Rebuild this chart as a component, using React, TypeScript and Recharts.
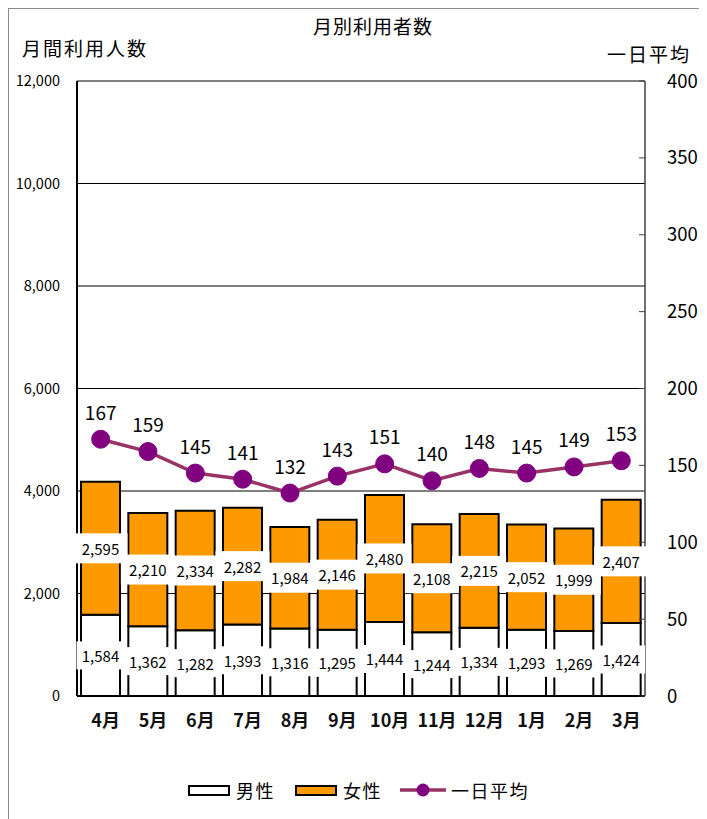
import {
  ComposedChart, Bar, Line, XAxis, YAxis, CartesianGrid, LabelList,
} from 'recharts'

// ─── Data ────────────────────────────────────────────────────────────────────
const MONTHS = ['4月', '5月', '6月', '7月', '8月', '9月', '10月', '11月', '12月', '1月', '2月', '3月']
const MALE = [1584, 1362, 1282, 1393, 1316, 1295, 1444, 1244, 1334, 1293, 1269, 1424]
const FEMALE = [2595, 2210, 2334, 2282, 1984, 2146, 2480, 2108, 2215, 2052, 1999, 2407]
const DAILY_AVG = [167, 159, 145, 141, 132, 143, 151, 140, 148, 145, 149, 153]
const LEFT_TICKS = [0, 2000, 4000, 6000, 8000, 10000, 12000]
const RIGHT_TICKS = [0, 50, 100, 150, 200, 250, 300, 350, 400]
const BOUNDARY_TICKS = [0, 1, 2, 3, 4, 5, 6, 7, 8, 9, 10, 11, 12]

const data = MONTHS.map((m, i) => ({
  month: m,
  male: MALE[i],
  female: FEMALE[i],
  avg: DAILY_AVG[i],
}))

const FONT = '"Noto Sans CJK JP", "Noto Sans", sans-serif'
const ORANGE = '#FF9900'
const LINE_COLOR = '#993366'
const DOT_COLOR = '#800080'

const W = 694
const H = 810

function boxLabel(w: number, h: number) {
  return (props: any) => {
    const { x, y, width, height, value } = props
    const cx = x + width / 2
    const cy = y + height / 2
    return (
      <g>
        <rect x={cx - w / 2} y={cy - h / 2} width={w} height={h} fill="#fff" />
        <text
          x={cx}
          y={cy}
          textAnchor="middle"
          dominantBaseline="central"
          fontSize={15}
          fontFamily={FONT}
          fill="#000"
        >
          {Number(value).toLocaleString('en-US')}
        </text>
      </g>
    )
  }
}

function avgLabel(props: any) {
  const { x, y, value } = props
  return (
    <text x={x} y={y - 28} textAnchor="middle" dominantBaseline="central"
      fontSize={19} fontFamily={FONT} fill="#000">
      {value}
    </text>
  )
}

export default function App() {
  return (
    <div
      style={{
        position: 'relative',
        width: W,
        height: H,
        border: '1px solid #8c8c8c',
        fontFamily: FONT,
        background: '#fff',
      }}
    >
      {/* titles */}
      <div style={{ position: 'absolute', left: 0, width: W + 34, top: 3, textAlign: 'center', fontSize: 19, letterSpacing: 1 }}>
        月別利用者数
      </div>
      <div style={{ position: 'absolute', left: 13, top: 25, fontSize: 19, letterSpacing: 2 }}>
        月間利用人数
      </div>
      <div style={{ position: 'absolute', left: 598, top: 31, fontSize: 19, letterSpacing: 2 }}>
        一日平均
      </div>

      <ComposedChart
        width={W}
        height={H}
        data={data}
        margin={{ top: 72, right: 8, left: 8, bottom: 93 }}
        style={{ position: 'absolute', left: 0, top: 0 }}
      >
        <CartesianGrid yAxisId="left" vertical={false} stroke="#000" strokeWidth={1} />
        <XAxis
          dataKey="month"
          tickLine={false}
          axisLine={{ stroke: '#000', strokeWidth: 2 }}
          tick={{ fontSize: 18, fontWeight: 600, fill: '#111', fontFamily: FONT, dx: 5 }}
          tickSize={6}
          tickMargin={12}
          height={30}
          interval={0}
        />
        <XAxis
          xAxisId="top"
          orientation="top"
          type="number"
          domain={[0, 12]}
          ticks={BOUNDARY_TICKS}
          allowDataOverflow
          height={0}
          tickSize={4}
          tickLine={{ stroke: '#808080' }}
          axisLine={{ stroke: '#808080', strokeWidth: 1.5 }}
          tickFormatter={() => ''}
        />
        <YAxis
          yAxisId="left"
          domain={[0, 12000]}
          ticks={LEFT_TICKS}
          width={60}
          tickLine={false}
          tickSize={6}
          tickMargin={11}
          axisLine={{ stroke: '#000', strokeWidth: 2 }}
          tick={{ fontSize: 14.5, fill: '#000', fontFamily: FONT }}
          tickFormatter={(v: number) => v.toLocaleString('en-US')}
        />
        <YAxis
          yAxisId="right"
          orientation="right"
          domain={[0, 400]}
          ticks={RIGHT_TICKS}
          width={50}
          tickSize={-6}
          tickMargin={28}
          tickLine={{ stroke: '#404040' }}
          axisLine={{ stroke: '#404040', strokeWidth: 1.5 }}
          tick={{ fontSize: 18.5, fill: '#000', fontFamily: FONT, textAnchor: 'start' }}
        />
        <Bar yAxisId="left" dataKey="male" stackId="s" fill="#fff" stroke="#000"
          strokeWidth={2} barSize={39} isAnimationActive={false}>
          <LabelList dataKey="male" content={boxLabel(48, 28)} />
        </Bar>
        <Bar yAxisId="left" dataKey="female" stackId="s" fill={ORANGE} stroke="#000"
          strokeWidth={2} barSize={39} isAnimationActive={false}>
          <LabelList dataKey="female" content={boxLabel(54, 30)} />
        </Bar>
        <Line
          yAxisId="right"
          dataKey="avg"
          stroke={LINE_COLOR}
          strokeWidth={3.5}
          dot={{ r: 9, fill: DOT_COLOR, stroke: DOT_COLOR, strokeWidth: 1 }}
          activeDot={false}
          isAnimationActive={false}
        >
          <LabelList dataKey="avg" content={avgLabel} />
        </Line>
      </ComposedChart>

      {/* legend */}
      <div
        style={{
          position: 'absolute',
          top: 768,
          left: 179,
          display: 'flex',
          alignItems: 'center',
          fontSize: 18,
          whiteSpace: 'nowrap',
        }}
      >
        <span style={{ display: 'inline-block', width: 38, height: 7, border: '2px solid #000', background: '#fff' }} />
        <span style={{ marginLeft: 6, marginRight: 20, letterSpacing: 1.5 }}>男性</span>
        <span style={{ display: 'inline-block', width: 38, height: 7, border: '2px solid #000', background: ORANGE }} />
        <span style={{ marginLeft: 6, marginRight: 18, letterSpacing: 1.5 }}>女性</span>
        <svg width={46} height={14}>
          <line x1={0} y1={7} x2={46} y2={7} stroke={LINE_COLOR} strokeWidth={3.5} />
          <circle cx={23} cy={7} r={6.5} fill={DOT_COLOR} />
        </svg>
        <span style={{ marginLeft: 5, letterSpacing: 1.5 }}>一日平均</span>
      </div>
    </div>
  )
}
